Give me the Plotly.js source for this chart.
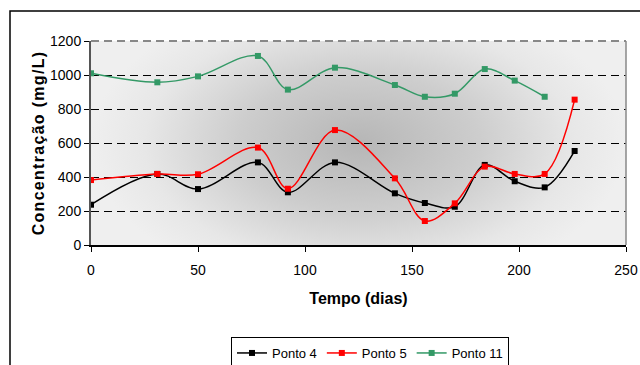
<!DOCTYPE html>
<html>
<head>
<meta charset="utf-8">
<script src="https://cdn.plot.ly/plotly-3.0.1.min.js"></script>
<style>
  html, body { margin: 0; padding: 0; background: #ffffff; }
  #chart { width: 640px; height: 365px; }
</style>
</head>
<body>
<div id="chart"></div>
<script>
// Sampling days
const dias = [0, 31, 50, 78, 92, 114, 142, 156, 170, 184, 198, 212, 226];

// Concentration per monitoring point (mg/L)
const ponto4 = [237, 418, 329, 486, 310, 486, 304, 247, 225, 471, 375, 339, 553];
const ponto5 = [382, 418, 416, 573, 331, 676, 392, 141, 245, 461, 418, 418, 855];
const ponto11 = [1010, 957, 992, 1112, 914, 1043, 941, 872, 890, 1035, 967, 872];

const seriesNames = ['Ponto 4', 'Ponto 5', 'Ponto 11'];
const seriesColors = ['#000000', '#ff0000', '#339966'];

const yTicks = [0, 200, 400, 600, 800, 1000, 1200];
const xTicks = [0, 50, 100, 150, 200, 250];

// Plot-area geometry in pixels
const W = 640, H = 365;
const M = { l: 91, r: 14, t: 41, b: 120, autoexpand: false };
const pw = W - M.l - M.r, ph = H - M.t - M.b;
const px = v => (v - M.l) / pw;
const py = v => (H - M.b - v) / ph;

// Soft radial shading for the plot background
function shadedBackground() {
  const c = document.createElement('canvas');
  c.width = pw; c.height = ph;
  const ctx = c.getContext('2d');
  ctx.fillStyle = '#efefef';
  ctx.fillRect(0, 0, pw, ph);
  ctx.save();
  ctx.translate(pw * 0.5, ph * 0.5);
  ctx.scale(1.0, ph / pw * 1.5);
  const r = pw * 0.5;
  const g = ctx.createRadialGradient(0, 0, 0, 0, 0, r);
  g.addColorStop(0, '#b6b6b6');
  g.addColorStop(0.45, '#cdcdcd');
  g.addColorStop(0.8, '#e7e7e7');
  g.addColorStop(1, '#efefef');
  ctx.fillStyle = g;
  ctx.fillRect(-r, -r, 2 * r, 2 * r);
  ctx.restore();
  return c.toDataURL('image/png');
}

const allY = [ponto4, ponto5, ponto11];
const traces = allY.map((ys, i) => ({
  x: dias.slice(0, ys.length),
  y: ys,
  name: seriesNames[i],
  type: 'scatter',
  mode: 'lines+markers',
  line: { color: seriesColors[i], width: 1.5, shape: 'spline', smoothing: 1 },
  marker: { symbol: 'square', size: 6, color: seriesColors[i] }
}));

const sans = '"Liberation Sans", Arial, sans-serif';

const layout = {
  width: W, height: H,
  margin: M,
  paper_bgcolor: '#ffffff',
  plot_bgcolor: 'rgba(0,0,0,0)',
  font: { family: sans, size: 14, color: '#000' },
  showlegend: true,
  legend: {
    orientation: 'h',
    x: px(231), y: py(337), xanchor: 'left', yanchor: 'top',
    bordercolor: '#000', borderwidth: 1, bgcolor: '#ffffff',
    font: { family: sans, size: 13, color: '#000' },
    itemwidth: 30, tracegroupgap: 0
  },
  xaxis: {
    range: [0, 250], tickvals: xTicks, ticktext: xTicks.map(String),
    showgrid: false, zeroline: false,
    showline: true, linecolor: '#000', linewidth: 1.5,
    ticks: 'outside', ticklen: 5, tickcolor: '#000', tickwidth: 1,
    ticklabelstandoff: 7,
    tickfont: { family: sans, size: 14 },
    title: { text: '<b>Tempo (dias)</b>', font: { family: sans, size: 16 }, standoff: 15 }
  },
  yaxis: {
    range: [0, 1200], tickvals: yTicks, ticktext: yTicks.map(String),
    showgrid: true, gridcolor: '#000', gridwidth: 1, griddash: '8px,5px',
    zeroline: false,
    showline: true, linecolor: '#555', linewidth: 2,
    ticks: 'outside', ticklen: 5, tickcolor: '#000', tickwidth: 1,
    tickfont: { family: sans, size: 14 },
    title: { text: '<b>Concentração (mg/L)</b>', font: { family: sans, size: 16 }, standoff: 1 }
  },
  images: [{
    source: shadedBackground(),
    xref: 'paper', yref: 'paper', x: 0, y: 1, sizex: 1, sizey: 1,
    xanchor: 'left', yanchor: 'top', sizing: 'stretch', layer: 'below'
  }],
  shapes: [
    // outer chart frame
    { type: 'rect', xref: 'paper', yref: 'paper', x0: px(10), x1: px(660), y0: py(400), y1: py(11),
      line: { color: '#000', width: 1.5 }, fillcolor: 'rgba(0,0,0,0)', layer: 'below' },
    // top edge of plot area
    { type: 'line', xref: 'paper', yref: 'paper', x0: 0, x1: 1, y0: 1, y1: 1,
      line: { color: '#888', width: 2, dash: '8px,5px' }, layer: 'above' },
    // right edge of plot area
    { type: 'line', xref: 'paper', yref: 'paper', x0: 1, x1: 1, y0: 0, y1: 1,
      line: { color: '#888', width: 1.5 }, layer: 'above' }
  ]
};

const gd = document.getElementById('chart');
Plotly.newPlot(gd, traces, layout, { displayModeBar: false, staticPlot: true }).then(() => {
  // widen the spacing of the vertical axis title
  gd.querySelectorAll('.ytitle').forEach(t => t.setAttribute('letter-spacing', '1.3'));
});
</script>
</body>
</html>
